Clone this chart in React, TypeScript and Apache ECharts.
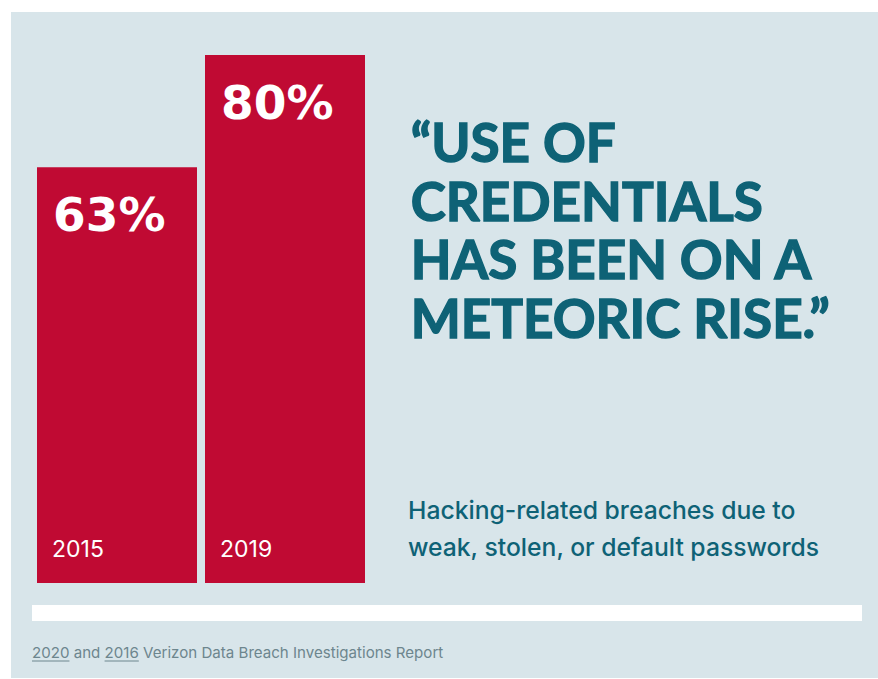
import React, { useEffect, useRef } from "react";
import * as echarts from "echarts";

const categories = ["2015", "2019"];
const values = [63, 80];
const quoteLines = ["“USE OF", "CREDENTIALS", "HAS BEEN ON A", "METEORIC RISE.”"];
const subtitleLines = ["Hacking-related breaches due to", "weak, stolen, or default passwords"];
const footerParts = ["2020", " and ", "2016", " Verizon Data Breach Investigations Report"];

const BG = "#d8e5ea";
const RED = "#c00a33";
const TEAL = "#0e6276";
const GRAY = "#6d868e";
const FONT = "Lato, 'Noto Sans', sans-serif";
const FONT2 = "Inter, 'Noto Sans', sans-serif";

function measure(text: string, font: string): number {
  const c = document.createElement("canvas");
  const ctx = c.getContext("2d");
  if (!ctx) return text.length * 7;
  ctx.font = font;
  return ctx.measureText(text).width;
}

export default function App() {
  const ref = useRef<HTMLDivElement>(null);
  useEffect(() => {
    if (!ref.current) return;
    const chart = echarts.init(ref.current, undefined, { renderer: "svg" });
    const footFont = "15.1px Inter";
    const fx = 32;
    const w0 = measure(footerParts[0], footFont);
    const w1 = measure(footerParts[1], footFont);
    const w2 = measure(footerParts[2], footFont);
    const ulY = 661;
    chart.setOption({
      animation: false,
      backgroundColor: "#ffffff",
      grid: { left: 33, right: 509, top: 55, bottom: 96 },
      xAxis: {
        type: "category",
        data: categories,
        axisLine: { show: false },
        axisTick: { show: false },
        axisLabel: { show: false },
      },
      yAxis: {
        type: "value",
        min: 0,
        max: 80,
        show: false,
        splitLine: { show: false },
      },
      graphic: [
        {
          type: "rect",
          z: -10,
          silent: true,
          shape: { x: 11, y: 12, width: 867, height: 666 },
          style: { fill: BG },
        },
        {
          type: "rect",
          silent: true,
          shape: { x: 32, y: 605, width: 830, height: 16 },
          style: { fill: "#ffffff" },
        },
        {
          type: "text",
          left: 410,
          top: 112,
          style: {
            text: quoteLines.join("\n"),
            font: `bold 53px ${FONT}`,
            fill: TEAL,
            stroke: TEAL,
            lineWidth: 1.4,
            lineHeight: 58.7,
            verticalAlign: "top",
          },
        },
        {
          type: "text",
          left: 408,
          top: 491,
          style: {
            text: subtitleLines.join("\n"),
            font: `500 24.7px ${FONT2}`,
            fill: TEAL,
            lineHeight: 37,
            verticalAlign: "top",
          },
        },
        {
          type: "text",
          x: fx,
          y: 652,
          style: {
            text: footerParts.join(""),
            font: `${footFont}, sans-serif`,
            fill: GRAY,
            verticalAlign: "middle",
          },
        },
        {
          type: "line",
          shape: { x1: fx, y1: ulY, x2: fx + w0, y2: ulY },
          style: { stroke: GRAY, lineWidth: 1 },
        },
        {
          type: "line",
          shape: { x1: fx + w0 + w1, y1: ulY, x2: fx + w0 + w1 + w2, y2: ulY },
          style: { stroke: GRAY, lineWidth: 1 },
        },
      ],
      series: [
        {
          type: "bar",
          data: values,
          barWidth: 160,
          itemStyle: { color: RED },
          label: {
            show: true,
            position: "insideTopLeft",
            distance: 16,
            offset: [0, 8],
            formatter: "{c}%",
            color: "#ffffff",
            fontFamily: "'DejaVu Sans', sans-serif",
            fontWeight: "bold",
            fontSize: 47,
            lineHeight: 47,
          },
        },
        {
          type: "bar",
          data: values,
          barWidth: 160,
          barGap: "-100%",
          itemStyle: { color: "rgba(0,0,0,0)" },
          label: {
            show: true,
            position: "insideBottomLeft",
            distance: 15,
            offset: [0, -7],
            formatter: "{b}",
            color: "#ffffff",
            fontFamily: FONT2,
            fontSize: 23,
            lineHeight: 24,
          },
        },
      ],
    });
    return () => chart.dispose();
  }, []);
  return (
    <div
      ref={ref}
      style={{ position: "fixed", left: 0, top: 0, width: 878, height: 679 }}
    />
  );
}
